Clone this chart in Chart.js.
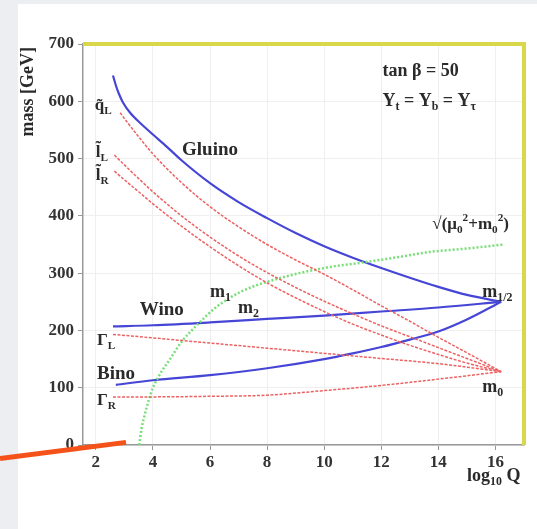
<!DOCTYPE html>
<html>
<head>
<meta charset="utf-8">
<script src="https://cdn.jsdelivr.net/npm/chart.js@4.4.1/dist/chart.umd.min.js"></script>
<style>
  body { margin: 0; background: #eceef1; width: 537px; height: 529px; overflow: hidden; position: relative; }
  #panel { position: absolute; left: 18px; top: 4px; right: 0; bottom: 0; background: #fff; }
  #chart { position: absolute; left: 0; top: 0; }
  #pointer { position: absolute; left: 0; top: 456px; width: 127px; height: 5px; background: #f5521a;
    transform-origin: 0 50%; transform: rotate(-7.3deg); }
</style>
</head>
<body>
<div id="panel"></div>
<canvas id="chart" width="537" height="529"></canvas>
<div id="pointer"></div>
<script>
// valeurs : [log10 Q, masse GeV]
const gluino = [[2.6, 645], [2.7, 628], [2.8, 614], [2.95, 598], [3.2, 580], [3.6, 560], [4, 542], [4.5, 520], [5, 497], [6, 457], [7, 424], [8, 396], [9, 370], [10, 347], [11, 327], [12, 309], [13, 292], [14, 276], [15, 262], [16.2, 250]];
const wino = [[2.6, 207], [4, 209], [6, 214], [8, 220], [10, 226], [12, 233], [14, 240], [16.2, 250]];
const bino = [[2.7, 105], [4, 113], [6, 122], [8, 134], [10, 150], [11, 160], [12, 171], [13, 184], [14, 198], [15, 219], [16.2, 250]];
const squarkL = [[2.85, 580], [3, 570], [3.5, 538], [4, 508], [5, 458], [6, 416], [7, 381], [8, 350], [9, 323], [10, 298], [11, 271], [12, 243], [13, 216], [14, 188], [15, 161], [16.2, 128]];
const sleptonL = [[2.65, 506], [3, 489], [3.5, 465], [4, 442], [5, 400], [6, 363], [7, 330], [8, 301], [9, 275], [10, 251], [11, 229], [12, 208], [13, 189], [14, 170], [15, 151], [16.2, 128]];
const sleptonR = [[2.65, 478], [3, 463], [3.5, 442], [4, 421], [5, 382], [6, 346], [7, 313], [8, 283], [9, 257], [10, 233], [11, 211], [12, 192], [13, 174], [14, 158], [15, 143], [16.2, 128]];
const gammaL = [[2.6, 193], [4, 187], [6, 178], [8, 169], [10, 160], [12, 151], [14, 142], [16.2, 128]];
const gammaR = [[2.6, 84], [4, 84], [6, 85], [8, 87], [10, 95], [12, 104], [14, 115], [16.2, 128]];
const higgs = [[3.52, 0], [3.6, 28], [3.7, 50], [3.85, 78], [4, 100], [4.3, 128], [4.6, 150], [5, 180], [5.6, 212], [6.2, 240], [7.1, 268], [8.5, 292], [10, 309], [11.4, 319], [12.6, 328], [13.7, 337], [15, 343], [16.3, 350]];

const xTicks = [2, 4, 6, 8, 10, 12, 14, 16];
const yTicks = [0, 100, 200, 300, 400, 500, 600, 700];

const BLUE = "#4646d6";
const RED = "#ec6262";
const GREEN = "#78df78";
const SERIF = '"Liberation Serif", "DejaVu Serif", serif';

function serie(points, color, width, dash) {
  return {
    data: points.map(([x, y]) => ({ x: x, y: y })),
    showLine: true,
    borderColor: color,
    borderWidth: width,
    borderDash: dash,
    pointRadius: 0,
    tension: 0.4,
    cubicInterpolationMode: "monotone",
  };
}

// textes : [x, y] en unités du graphique, morceaux [texte, "sub"/"sup"]
const annotations = [
  { at: [5.02, 515], size: 19, parts: [["Gluino"]] },
  { at: [3.54, 236], size: 19, parts: [["Wino"]] },
  { at: [2.04, 124], size: 19, parts: [["Bino"]] },
  { at: [6.0, 267], size: 18, parts: [["m"], ["1", "sub"]] },
  { at: [6.98, 239], size: 18, parts: [["m"], ["2", "sub"]] },
  { at: [12.04, 653], size: 18, parts: [["tan β = 50"]] },
  { at: [12.04, 600], size: 18, parts: [["Y"], ["t", "sub"], [" = Y"], ["b", "sub"], [" = Y"], ["τ", "sub"]] },
  { at: [13.79, 384], size: 17, parts: [["√(μ"], ["0", "sub"], ["2", "sup"], ["+m"], ["0", "sub"], ["2", "sup"], [")"]] },
  { at: [15.54, 267], size: 18, parts: [["m"], ["1/2", "sub"]] },
  { at: [15.54, 101], size: 18, parts: [["m"], ["0", "sub"]] },
  { at: [1.96, 592], size: 17, parts: [["q̃"], ["L", "sub"]] },
  { at: [2.0, 511], size: 17, parts: [["l̃"], ["L", "sub"]] },
  { at: [2.0, 471], size: 17, parts: [["l̃"], ["R", "sub"]] },
  { at: [2.04, 183], size: 17, parts: [["Γ"], ["L", "sub"]] },
  { at: [2.04, 77], size: 17, parts: [["Γ"], ["R", "sub"]] },
];

function drawRich(ctx, parts, x, y, size) {
  let cx = x;
  parts.forEach(([t, mode]) => {
    const s = mode ? size * 0.66 : size;
    ctx.font = `bold ${s}px ${SERIF}`;
    const dy = mode === "sub" ? size * 0.32 : mode === "sup" ? -size * 0.38 : 0;
    ctx.fillText(t, cx, y + dy);
    cx += ctx.measureText(t).width;
  });
}

const decorPlugin = {
  id: "decor",
  afterDraw(chart) {
    const { ctx, chartArea, scales } = chart;
    ctx.save();
    // cadre jaune haut et droite
    ctx.strokeStyle = "#d8d84a";
    ctx.lineWidth = 4;
    ctx.beginPath();
    ctx.moveTo(chartArea.left, chartArea.top);
    ctx.lineTo(chartArea.right, chartArea.top);
    ctx.lineTo(chartArea.right, chartArea.bottom);
    ctx.stroke();

    ctx.fillStyle = "#2a2a2a";
    ctx.textBaseline = "middle";
    ctx.textAlign = "left";
    annotations.forEach((a) => {
      drawRich(ctx, a.parts, scales.x.getPixelForValue(a.at[0]), scales.y.getPixelForValue(a.at[1]), a.size);
    });

    // titre axe x
    drawRich(ctx, [["log"], ["10", "sub"], [" Q"]], chartArea.right - 57, chartArea.bottom + 31, 18);

    // titre axe y
    ctx.translate(28, chartArea.top + 3);
    ctx.rotate(-Math.PI / 2);
    ctx.textAlign = "right";
    ctx.font = `bold 18px ${SERIF}`;
    ctx.fillText("mass [GeV]", 0, 0);
    ctx.restore();
  },
};

const tickFont = { family: SERIF, weight: "bold", size: 17 };

new Chart(document.getElementById("chart"), {
  type: "scatter",
  data: {
    datasets: [
      serie(squarkL, RED, 1.5, [3, 1.5]),
      serie(sleptonL, RED, 1.5, [3, 1.5]),
      serie(sleptonR, RED, 1.5, [3, 1.5]),
      serie(gammaL, RED, 1.5, [3, 1.5]),
      serie(gammaR, RED, 1.5, [3, 1.5]),
      serie(higgs, GREEN, 2.5, [2, 2]),
      serie(gluino, BLUE, 2.2, []),
      serie(wino, BLUE, 2.2, []),
      serie(bino, BLUE, 2.2, []),
    ],
  },
  options: {
    responsive: false,
    animation: false,
    devicePixelRatio: 1,
    layout: { padding: { left: 18, top: 44, right: 13, bottom: 54 } },
    plugins: { legend: { display: false }, tooltip: { enabled: false } },
    scales: {
      x: {
        type: "linear",
        min: 1.55,
        max: 17,
        afterBuildTicks: (s) => { s.ticks = xTicks.map((v) => ({ value: v })); },
        afterFit: (s) => { s.height = 30; },
        ticks: { font: tickFont, color: "#333", padding: 2 },
        grid: { color: "#efefef", tickColor: "#999", tickLength: 5 },
        border: { color: "#999", width: 1.5 },
      },
      y: {
        min: 0,
        max: 700,
        afterBuildTicks: (s) => { s.ticks = yTicks.map((v) => ({ value: v })); },
        afterFit: (s) => { s.width = 65; },
        ticks: { font: tickFont, color: "#333", padding: 4 },
        grid: { color: "#efefef", tickColor: "#999", tickLength: 5 },
        border: { color: "#999", width: 1.5 },
      },
    },
  },
  plugins: [decorPlugin],
});
</script>
</body>
</html>
